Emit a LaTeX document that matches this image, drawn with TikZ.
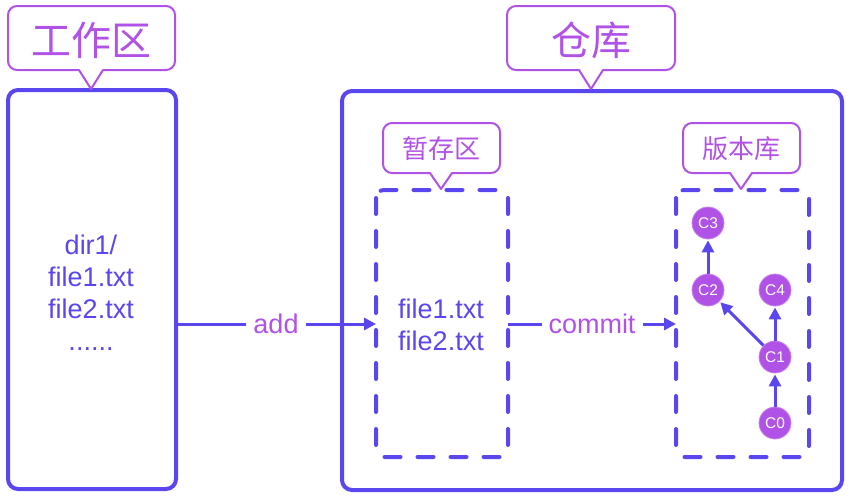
\documentclass[tikz,border=0pt]{standalone}
\usepackage{fontspec}
\setmainfont{Liberation Sans}
\newfontfamily\cjk{Noto Sans CJK SC}
\usetikzlibrary{arrows.meta}
\definecolor{gblue}{HTML}{5A46EE}
\definecolor{gpurple}{HTML}{B152E6}
\tikzset{
  mainbox/.style={draw=gblue, line width=4pt, rounded corners=10pt},
  dashbox/.style={draw=gblue, line width=4pt, rounded corners=8pt, line cap=round, dash pattern=on 16pt off 17pt},
  calloutline/.style={draw=gpurple, line width=2pt, line cap=round, line join=round},
  bigtitle/.style={text=gpurple, font=\cjk\fontsize{40}{44}\selectfont, inner sep=0pt},
  smalltitle/.style={text=gpurple, font=\cjk\fontsize{26}{30}\selectfont, inner sep=0pt},
  filetext/.style={text=gblue, font=\fontsize{27}{32}\selectfont, align=center, inner sep=0pt},
  commit/.style={circle, fill=gpurple, draw=gpurple!70!white, line width=0.8pt, minimum size=32pt, inner sep=0pt, text=white, font=\fontsize{15.5}{15.5}\selectfont},
  flow/.style={draw=gblue, line width=3pt, -{Triangle[length=12pt,width=12pt]}},
  cedge/.style={draw=gblue, line width=3pt, -{Triangle[length=12pt,width=12pt]}, shorten >=1pt},
  lbl/.style={text=gpurple, fill=white, font=\fontsize{27}{30}\selectfont, inner xsep=7pt, inner ysep=2pt},
}
% callout: x1, y1, x2, y2, tip x, tip y, half width
\newcommand{\mycallout}[7]{%
  \draw[calloutline, rounded corners=9pt] (#5+#7,#4) -- (#3,#4) -- (#3,#2) -- (#1,#2) -- (#1,#4) -- (#5-#7,#4);
  \draw[calloutline] (#5-#7,#4) -- (#5,#6) -- (#5+#7,#4);
}
\begin{document}
\begin{tikzpicture}[x=1pt,y=-1pt]
\useasboundingbox (0,0) rectangle (849,498);
% main boxes
\draw[mainbox] (8,90) rectangle (176,489);
\draw[mainbox] (342,91) rectangle (842,490);
\node[minimum width=168pt, minimum height=399pt, inner sep=0pt] (work) at (92,289.5) {};
\node[minimum width=500pt, minimum height=399pt, inner sep=0pt] (repo) at (592,290.5) {};
% dashed boxes
\draw[dashbox] (376,190) rectangle (508,457);
\draw[dashbox] (676,190) rectangle (809,457);
\node[minimum width=132pt, minimum height=267pt, inner sep=0pt] (stage) at (442,323.5) {};
\node[minimum width=133pt, minimum height=267pt, inner sep=0pt] (vers) at (742.5,323.5) {};
% callouts
\mycallout{8}{6}{175}{70}{91}{89}{12}
\mycallout{507}{6}{675}{70}{591}{89}{12}
\mycallout{383}{123}{500}{173}{441}{189}{11}
\mycallout{683}{123}{800}{173}{741}{189}{11}
\node[bigtitle] (t1) at (91.5,40) {工作区};
\node[bigtitle] (t2) at (591,40) {仓库};
\node[smalltitle] (t3) at (441.5,149) {暂存区};
\node[smalltitle] (t4) at (741.5,149) {版本库};
% texts
\node[filetext] (wtext) at (91,293) {dir1/\\file1.txt\\file2.txt\\......};
\node[filetext] (stext) at (441,325) {file1.txt\\file2.txt};
% flows
\coordinate (a1) at (176,324);
\coordinate (a2) at (376,324);
\coordinate (b1) at (508,324);
\coordinate (b2) at (676,324);
\draw[flow] (a1) -- node[lbl] (addl) {add} (a2);
\draw[flow] (b1) -- node[lbl] (coml) {commit} (b2);
% commits
\node[commit] (c3) at (708,223) {C3};
\node[commit] (c2) at (708,290) {C2};
\node[commit] (c4) at (775,290) {C4};
\node[commit] (c1) at (775,357) {C1};
\node[commit] (c0) at (775,423) {C0};
\draw[cedge] (c0) -- (c1);
\draw[cedge] (c1) -- (c4);
\draw[cedge] (c1) -- (c2);
\draw[cedge] (c2) -- (c3);
\end{tikzpicture}
\end{document}
